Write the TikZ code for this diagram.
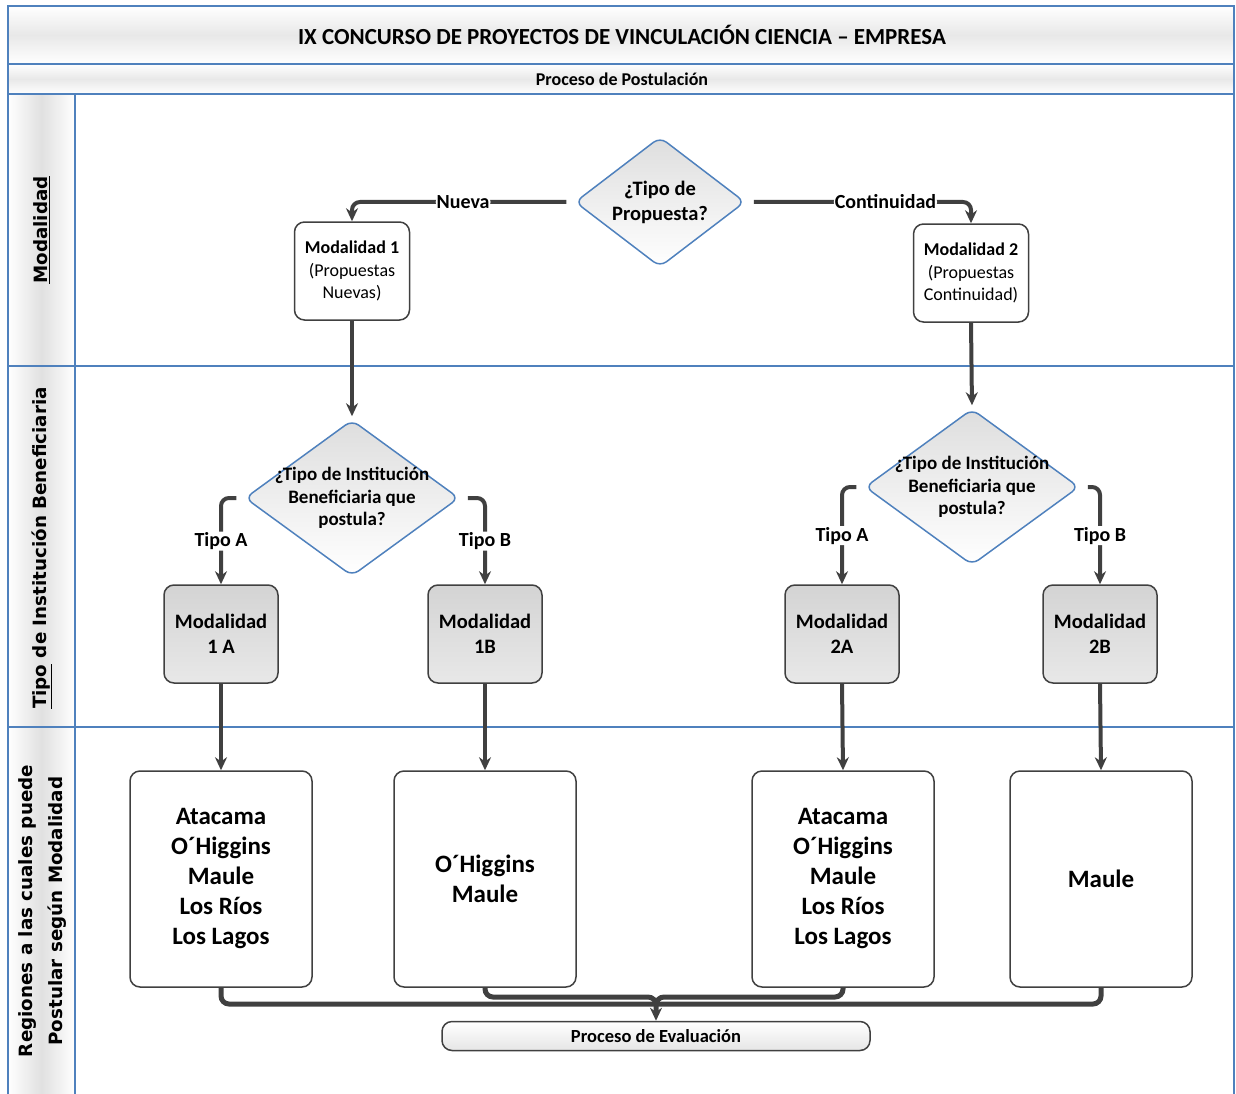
\documentclass[tikz,border=0pt]{standalone}
\usepackage{fontspec}
\setmainfont{Carlito}
\newfontfamily\lanefont{DejaVu Sans}
\usetikzlibrary{shapes.geometric,arrows.meta}
\definecolor{lineblue}{HTML}{4F81BD}
\definecolor{flowgray}{HTML}{404040}
\tikzset{
  modbox/.style={draw=flowgray, line width=1.5pt, rounded corners=10pt, fill=white, align=center, minimum width=115pt, minimum height=98pt, inner sep=2pt, font=\fontsize{18}{22.5}\selectfont},
  subbox/.style={modbox, top color=black!17, bottom color=black!9, minimum width=114pt, font=\bfseries\fontsize{20.5}{25}\selectfont},
  regbox/.style={modbox, minimum width=182pt, minimum height=216pt, font=\bfseries\fontsize{25}{30}\selectfont},
  decision/.style={diamond, draw=lineblue, line width=1.5pt, rounded corners=8pt, top color=black!13, bottom color=white, inner sep=0pt},
  dtext/.style={align=center, font=\bfseries\fontsize{19}{22.5}\selectfont},
  flow/.style={draw=flowgray, line width=4pt, -{Stealth[length=13pt,width=12pt]}, rounded corners=8pt},
  flowline/.style={draw=flowgray, line width=5pt, rounded corners=8pt},
  lbl/.style={fill=white, inner sep=1pt, font=\bfseries\fontsize{20}{22}\selectfont},
  lane/.style={rotate=90, font=\lanefont\bfseries\fontsize{18.3}{30}\selectfont, align=center}
}
\begin{document}
\begin{tikzpicture}[x=1pt, y=-1pt]
    \useasboundingbox (0,0) rectangle (1236,1094);

    % draw header bands and lanes
    \shade[top color=white, bottom color=white, middle color=black!9] (8,6) rectangle (1234,64);
    \shade[top color=white, bottom color=white, middle color=black!9] (8,64) rectangle (1234,94);
    \shade[left color=white, right color=white, middle color=black!12] (8,94) rectangle (75,1094);
    \draw[lineblue, line width=1.5pt] (8,1094) -- (8,6) -- (1234,6) -- (1234,1094);
    \foreach \y in {64,94,366,727}
    \draw[lineblue, line width=1.5pt] (8,\y) -- (1234,\y);
    \draw[lineblue, line width=1.5pt] (75,94) -- (75,1094);

    % draw titles
    \node[font=\bfseries\fontsize{23}{26}\selectfont] (title) at (622,35) {IX CONCURSO DE PROYECTOS DE VINCULACIÓN CIENCIA – EMPRESA};
    \node[font=\bfseries\fontsize{18}{20}\selectfont] (subtitle) at (622,79) {Proceso de Postulación};
    \node[lane] (lanemod) at (42,230) {\underline{Modalidad}};
    \node[lane] (lanetipo) at (42,548) {\underline{Tipo} de Institución Beneficiaria};
    \node[lane] (lanereg) at (43,911) {Regiones a las cuales puede\\Postular según Modalidad};

    % draw nodes
    \node[decision, minimum width=170pt, minimum height=130pt] (dprop) at (660,202) {};
    \node[dtext, font=\bfseries\fontsize{20.5}{25}\selectfont] (dproptext) at (dprop) {¿Tipo de\\Propuesta?};
    \node[modbox] (mod1) at (352,271) {\textbf{Modalidad 1}\\(Propuestas\\Nuevas)};
    \node[modbox] (mod2) at (971,273) {\textbf{Modalidad 2}\\(Propuestas\\Continuidad)};
    \node[decision, minimum width=214pt, minimum height=156pt] (dinst1) at (352,498) {};
    \node[dtext] (dinst1text) at (dinst1) {¿Tipo de Institución\\Beneficiaria que\\postula?};
    \node[decision, minimum width=214pt, minimum height=156pt] (dinst2) at (972,487) {};
    \node[dtext] (dinst2text) at (dinst2) {¿Tipo de Institución\\Beneficiaria que\\postula?};
    \node[subbox] (mod1a) at (221,634) {Modalidad\\1 A};
    \node[subbox] (mod1b) at (485,634) {Modalidad\\1B};
    \node[subbox] (mod2a) at (842,634) {Modalidad\\2A};
    \node[subbox] (mod2b) at (1100,634) {Modalidad\\2B};
    \node[regbox] (reg1a) at (221,879) {Atacama\\O´Higgins\\Maule\\Los Ríos\\Los Lagos};
    \node[regbox] (reg1b) at (485,879) {O´Higgins\\Maule};
    \node[regbox] (reg2a) at (843,879) {Atacama\\O´Higgins\\Maule\\Los Ríos\\Los Lagos};
    \node[regbox] (reg2b) at (1101,879) {Maule};
    \node[draw=flowgray, line width=1.5pt, rounded corners=10pt, top color=white, bottom color=black!10, minimum width=428pt, minimum height=29pt, font=\bfseries\fontsize{18.5}{20}\selectfont] (eval) at (656,1036) {Proceso de Evaluación};

    % draw connectors
    \draw[flow, shorten <=8pt] (dprop.west) -| node[lbl, pos=0.25] {Nueva} (mod1.north);
    \draw[flow, shorten <=8pt] (dprop.east) -| node[lbl, pos=0.31] {Continuidad} (mod2.north);
    \draw[flow, shorten >=3pt] (mod1.south) -- (dinst1.north);
    \draw[flow, shorten >=3pt] (mod2.south) -- (dinst2.north);
    \draw[flow, shorten <=8pt] (dinst1.west) -| node[lbl, pos=0.75] {Tipo A} (mod1a.north);
    \draw[flow, shorten <=8pt] (dinst1.east) -| node[lbl, pos=0.75] {Tipo B} (mod1b.north);
    \draw[flow, shorten <=8pt] (dinst2.west) -| node[lbl, pos=0.75] {Tipo A} (mod2a.north);
    \draw[flow, shorten <=8pt] (dinst2.east) -| node[lbl, pos=0.75] {Tipo B} (mod2b.north);
    \foreach \a/\b in {mod1a/reg1a, mod1b/reg1b, mod2a/reg2a, mod2b/reg2b}
    \draw[flow] (\a.south) -- (\b.north);

    % draw merge to evaluation
    \coordinate (mergelow) at (656,1004);
    \coordinate (mergeup) at (656,997);
    \draw[flowline] (reg1a.south) |- (mergelow);
    \draw[flowline] (reg2b.south) |- (mergelow);
    \draw[flowline] (reg2a.south) |- (mergeup) -- (mergelow);
    \draw[flow, line width=5pt] (reg1b.south) |- (mergeup) -- (eval.north);
\end{tikzpicture}
\end{document}
